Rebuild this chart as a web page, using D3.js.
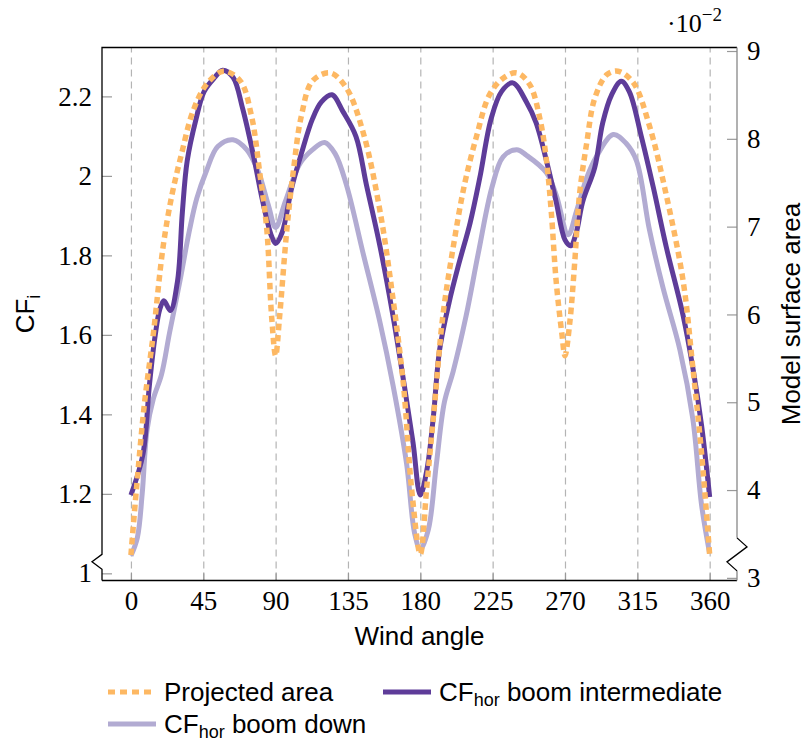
<!DOCTYPE html>
<html>
<head>
<meta charset="utf-8">
<script src="https://cdn.jsdelivr.net/npm/d3@7"></script>
<style>
  body { margin: 0; background: #fff; }
  .tick text { font-family: "Liberation Serif", serif; font-size: 27px; fill: #000; }
</style>
</head>
<body>
<div id="chart"></div>
<script>
// readings, wind angle in degrees
let angleIntermediate = [0, 7.5, 11.5, 15, 18, 20.5, 24.5, 29, 32, 35, 40.5, 45.5, 52, 57, 63.5, 69.5, 76, 82, 87.5, 90,
  94, 100, 106, 113, 118.5, 125, 132, 140, 146.5, 155, 163, 170, 175.5, 180, 184, 188, 192, 198, 204, 211, 217, 224,
  230.5, 237.5, 246, 252, 259.5, 264.5, 270, 273.5, 277, 281, 288.5, 293.5, 299, 305, 310, 317.5, 325, 333, 343.5,
  349.5, 355, 360];
let cfIntermediate = [1.197, 1.30, 1.474, 1.596, 1.665, 1.686, 1.661, 1.736, 1.909, 2.038, 2.143, 2.212, 2.247, 2.266,
  2.248, 2.169, 2.055, 1.935, 1.848, 1.830, 1.857, 1.970, 2.056, 2.144, 2.186, 2.204, 2.161, 2.099, 1.977, 1.821, 1.648,
  1.474, 1.328, 1.197, 1.258, 1.389, 1.562, 1.683, 1.779, 1.882, 1.995, 2.143, 2.212, 2.234, 2.186, 2.134, 2.021, 1.935,
  1.839, 1.824, 1.857, 1.935, 2.021, 2.134, 2.204, 2.238, 2.212, 2.099, 1.970, 1.821, 1.648, 1.518, 1.371, 1.192];

let angleDown = [0, 4, 7, 10, 14, 19, 24, 30.5, 36.5, 41, 47, 54, 63.5, 72, 79, 85.5, 90, 96, 105, 113, 120.5, 127, 134,
  144.5, 155, 163, 171.5, 176.5, 180, 185, 190, 195, 200.5, 208.5, 216, 224.5, 231.5, 240, 246, 258.5, 264.5, 272, 277,
  283.5, 289.5, 300, 308, 314.5, 322.5, 331, 341.5, 349.5, 355, 360];
let cfDown = [1.044, 1.09, 1.20, 1.36, 1.44, 1.50, 1.605, 1.736, 1.865, 1.944, 2.013, 2.074, 2.091, 2.066, 2.013, 1.926,
  1.87, 1.935, 2.03, 2.066, 2.084, 2.056, 1.978, 1.804, 1.63, 1.474, 1.275, 1.10, 1.06, 1.11, 1.275, 1.431, 1.509, 1.648,
  1.804, 1.970, 2.048, 2.066, 2.052, 2.008, 1.952, 1.852, 1.909, 1.995, 2.048, 2.104, 2.082, 2.038, 1.865, 1.718, 1.562,
  1.389, 1.171, 1.050];

let angleArea = [0, 3.5, 8.5, 14, 20, 25.5, 31.5, 38.5, 47, 57.5, 68, 75, 80, 84.5, 87.5, 90, 92.5, 97, 101, 106, 113,
  124, 134, 144.5, 155, 163, 169.5, 174.5, 180, 184, 189, 194, 200.5, 207.5, 215, 223, 231.5, 240, 248, 254.5, 258.5,
  261.5, 264.5, 268, 270, 273, 276, 279, 283.5, 288.5, 296, 303, 312.5, 322.5, 333, 343.5, 349.5, 355, 360];
// model surface area, x 10^-2
let projectedArea = [3.26, 4.03, 5.00, 5.79, 6.77, 7.36, 7.83, 8.31, 8.62, 8.77, 8.66, 8.26, 7.63, 6.97, 5.98, 5.53,
  5.98, 6.97, 7.63, 8.26, 8.66, 8.75, 8.58, 8.07, 7.17, 6.18, 5.20, 4.03, 3.27, 4.03, 5.00, 5.98, 6.77, 7.48, 8.03, 8.50,
  8.69, 8.75, 8.62, 8.22, 7.75, 7.16, 6.38, 5.79, 5.53, 5.91, 6.58, 7.36, 7.95, 8.46, 8.73, 8.77, 8.64, 8.15, 7.36, 6.38,
  5.40, 4.41, 3.26];

let xTicks = [0, 45, 90, 135, 180, 225, 270, 315, 360];
let leftTicks = [1, 1.2, 1.4, 1.6, 1.8, 2, 2.2];
let rightTicks = [3, 4, 5, 6, 7, 8, 9];

let svgWidth = 805;
let svgHeight = 742;
let margin = { top: 47.5, right: 68, bottom: 161.5, left: 102 };
let plotW = svgWidth - margin.left - margin.right;
let plotH = svgHeight - margin.top - margin.bottom;

let colArea = "#fdb863";
let colInter = "#5e3c99";
let colDown = "#b2abd2";

let svg = d3.select("#chart").append("svg")
  .attr("width", svgWidth)
  .attr("height", svgHeight);

let g = svg.append("g").attr("transform", "translate(" + margin.left + "," + margin.top + ")");

let xScale = d3.scaleLinear().domain([-18, 377]).range([0, plotW]);
let yLeft = d3.scaleLinear().domain([0.982, 2.323]).range([plotH, 0]);
let yRight = d3.scaleLinear().domain([2.97, 9.04]).range([plotH, 0]);

// dashed grid
g.append("g")
  .attr("transform", "translate(0," + plotH + ")")
  .call(d3.axisBottom(xScale).tickValues(xTicks).tickSize(-plotH).tickFormat(""))
  .call((s) => s.select(".domain").remove())
  .selectAll("line")
  .attr("stroke", "#b4b4b4")
  .attr("stroke-width", 1.2)
  .attr("stroke-dasharray", "7,5");

// x axis
let xAxis = g.append("g")
  .attr("transform", "translate(0," + plotH + ")")
  .call(d3.axisBottom(xScale).tickValues(xTicks).tickSizeInner(-8).tickSizeOuter(0).tickPadding(10));
xAxis.select(".domain").remove();
xAxis.selectAll("line").attr("stroke", "#999").attr("stroke-width", 1.2);

// left axis
let lAxis = g.append("g")
  .call(d3.axisLeft(yLeft).tickValues(leftTicks).tickSizeInner(-10).tickSizeOuter(0).tickPadding(10)
    .tickFormat(d3.format("~g")));
lAxis.select(".domain").remove();
lAxis.selectAll("line").attr("stroke", "#999").attr("stroke-width", 1.2);

// right axis
let rAxis = g.append("g")
  .attr("transform", "translate(" + plotW + ",0)")
  .call(d3.axisRight(yRight).tickValues(rightTicks).tickSizeInner(-10).tickSizeOuter(0).tickPadding(10)
    .tickFormat(d3.format("d")));
rAxis.select(".domain").remove();
rAxis.selectAll("line").attr("stroke", "#999").attr("stroke-width", 1.2);

// frame with the crunch marks near the bottom
let zl = yLeft(1) - 19;
g.append("path")
  .attr("d", "M0," + plotH + "V" + (zl + 15) + "L-10," + (zl + 7.5) + "L0," + zl + "V0H" + plotW)
  .attr("fill", "none").attr("stroke", "#000").attr("stroke-width", 1.3);
g.append("line")
  .attr("x1", 0).attr("x2", plotW).attr("y1", plotH).attr("y2", plotH)
  .attr("stroke", "#000").attr("stroke-width", 1.3);
let zr = yRight(3) - 40;
g.append("path")
  .attr("d", "M" + plotW + ",0V" + zr + "M" + plotW + "," + (zr + 33) + "V" + plotH)
  .attr("fill", "none").attr("stroke", "#888").attr("stroke-width", 1.3);
g.append("path")
  .attr("d", "M" + plotW + "," + zr + "L" + (plotW + 10) + "," + (zr + 9) + "L" + (plotW - 10) + "," + (zr + 24)
    + "L" + plotW + "," + (zr + 33))
  .attr("fill", "none").attr("stroke", "#000").attr("stroke-width", 1.3);

// lines
let lineLeft = d3.line()
  .x((d) => xScale(d[0]))
  .y((d) => yLeft(d[1]))
  .curve(d3.curveCatmullRom.alpha(0.5));
let lineRight = d3.line()
  .x((d) => xScale(d[0]))
  .y((d) => yRight(d[1]))
  .curve(d3.curveCatmullRom.alpha(0.5));

g.append("path")
  .attr("d", lineLeft(d3.zip(angleDown, cfDown)))
  .attr("fill", "none").attr("stroke", colDown).attr("stroke-width", 5).attr("stroke-linejoin", "round");
g.append("path")
  .attr("d", lineLeft(d3.zip(angleIntermediate, cfIntermediate)))
  .attr("fill", "none").attr("stroke", colInter).attr("stroke-width", 5).attr("stroke-linejoin", "round");
g.append("path")
  .attr("d", lineRight(d3.zip(angleArea, projectedArea)))
  .attr("fill", "none").attr("stroke", colArea).attr("stroke-width", 5.5).attr("stroke-dasharray", "6.5,4.5");

// axis titles
let sans = "'Liberation Sans', Arial, sans-serif";
g.append("text")
  .attr("x", plotW / 2).attr("y", 597)
  .attr("text-anchor", "middle")
  .style("font-family", sans).style("font-size", "26px")
  .text("Wind angle");

let yl = svg.append("text")
  .attr("transform", "translate(34," + (margin.top + plotH / 2) + ") rotate(-90)")
  .attr("text-anchor", "middle")
  .style("font-family", sans).style("font-size", "26px");
yl.append("tspan").text("CF");
yl.append("tspan").attr("dy", 6).style("font-size", "18px").text("i");

svg.append("text")
  .attr("transform", "translate(800," + (margin.top + plotH / 2) + ") rotate(-90)")
  .attr("text-anchor", "middle")
  .style("font-family", sans).style("font-size", "26px")
  .text("Model surface area");

let ex = svg.append("text")
  .attr("x", 667).attr("y", 32)
  .style("font-family", "'Liberation Serif', serif").style("font-size", "26px");
ex.append("tspan").text("\u00b710");
ex.append("tspan").attr("dy", -11).style("font-size", "19px").text("\u22122");

// legend
let legendItems = [
  { name: "Projected area", sub: null, color: colArea, dash: "7,5", x: 108, y: 692 },
  { name: "CF", sub: "hor", rest: " boom intermediate", color: colInter, dash: null, x: 383, y: 692 },
  { name: "CF", sub: "hor", rest: " boom down", color: colDown, dash: null, x: 108, y: 724 },
];
let legend = svg.append("g");
legendItems.forEach((d) => {
  legend.append("line")
    .attr("x1", d.x).attr("x2", d.x + 48).attr("y1", d.y).attr("y2", d.y)
    .attr("stroke", d.color).attr("stroke-width", 5)
    .attr("stroke-dasharray", d.dash);
  let t = legend.append("text")
    .attr("x", d.x + 56).attr("y", d.y + 9)
    .style("font-family", sans).style("font-size", "26px");
  t.append("tspan").text(d.name);
  if (d.sub) {
    t.append("tspan").attr("dy", 5).style("font-size", "18px").text(d.sub);
    t.append("tspan").attr("dy", -5).text(d.rest);
  }
});
</script>
</body>
</html>
